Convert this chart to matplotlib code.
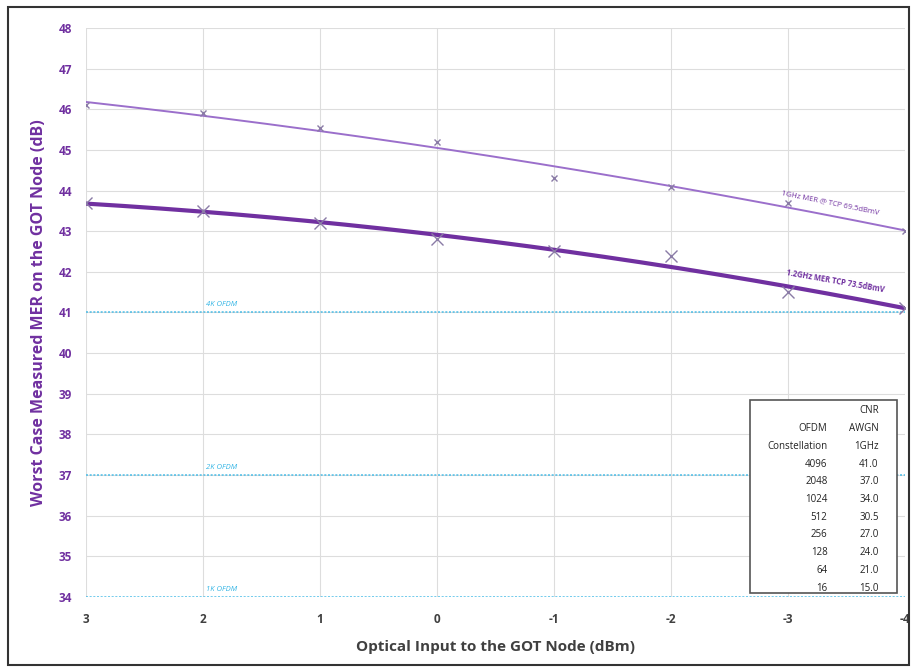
import numpy as np
import matplotlib
matplotlib.use("Agg")
import matplotlib.pyplot as plt
from matplotlib.patches import Rectangle

plt.rcParams['font.family'] = ['Open Sans', 'DejaVu Sans']
plt.rcParams['axes.unicode_minus'] = False

# optical input (dBm)
optical_in = [3, 2, 1, 0, -1, -2, -3, -4]
# 1GHz MER @ TCP 69.5dBmV
mer_1ghz = [46.1, 45.9, 45.55, 45.2, 44.3, 44.1, 43.7, 43.0]
# 1.2GHz MER TCP 73.5dBmV
mer_12ghz = [43.7, 43.5, 43.2, 42.8, 42.5, 42.4, 41.5, 41.1]

ofdm_levels = [41, 37, 34]
ofdm_labels = ['4K OFDM', '2K OFDM', '1K OFDM']

constellation = ['4096', '2048', '1024', '512', '256', '128', '64', '16']
cnr_awgn = ['41.0', '37.0', '34.0', '30.5', '27.0', '24.0', '21.0', '15.0']

purple = '#7030A0'
light_purple = '#9B6FCB'
marker_col = '#8A7BA6'
cyan = '#33B5E5'
grey_txt = '#404040'

fig = plt.figure(figsize=(9.14, 6.69), dpi=100)
ax = fig.add_axes([0.094, 0.108, 0.896, 0.850])

# trend lines (2nd order polynomial, like the spreadsheet trendline)
xs = np.linspace(3, -4, 200)
p1 = np.polyfit(optical_in, mer_1ghz, 2)
p2 = np.polyfit(optical_in, mer_12ghz, 2)
ax.plot(xs, np.polyval(p1, xs), color=light_purple, lw=1.4, zorder=3)
ax.plot(xs, np.polyval(p2, xs), color=purple, lw=3.0, zorder=3)

ax.plot(optical_in, mer_1ghz, ls='none', marker='x', ms=4, mew=1.0,
        color=marker_col, zorder=4)
ax.plot(optical_in, mer_12ghz, ls='none', marker='x', ms=9, mew=1.0,
        color=marker_col, zorder=4)

for lvl, lab in zip(ofdm_levels, ofdm_labels):
    ax.axhline(lvl, color=cyan, lw=1.2, ls=(0, (1.2, 1.0)), alpha=0.8, zorder=2)
    ax.text(1.97, lvl + 0.1, lab, color=cyan, fontsize=5.5, style='italic',
            ha='left', va='bottom')

ax.text(-3.36, 43.69, '1GHz MER @ TCP 69.5dBmV', color=purple, fontsize=5.5,
        rotation=-11.5, ha='center', va='center')
ax.text(-3.41, 41.77, '1.2GHz MER TCP 73.5dBmV', color=purple, fontsize=5.5,
        fontweight='bold', rotation=-10, ha='center', va='center')

ax.set_xlim(3, -4)
ax.set_ylim(34, 48)
ax.set_xticks(optical_in)
ax.set_yticks(range(34, 49))
ax.grid(True, color='#DDDDDD', lw=0.8)
ax.set_axisbelow(True)
for s in ax.spines.values():
    s.set_visible(False)
ax.tick_params(length=0)
ax.tick_params(axis='y', pad=10, labelcolor=purple)
ax.tick_params(axis='x', pad=12, labelcolor=grey_txt)
for t in ax.get_yticklabels():
    t.set_fontweight('bold')
    t.set_fontsize(8.5)
for t in ax.get_xticklabels():
    t.set_fontweight('bold')
    t.set_fontsize(8.5)

ax.set_ylabel('Worst Case Measured MER on the GOT Node (dB)', color=purple,
              fontsize=11.5, fontweight='bold', labelpad=8)
ax.set_xlabel('Optical Input to the GOT Node (dBm)', color=grey_txt,
              fontsize=11, fontweight='bold', labelpad=10)

# CNR table box
ax.add_patch(Rectangle((0.811, 0.007), 0.179, 0.339, transform=ax.transAxes,
                       facecolor='white', edgecolor='#555555', lw=1.2, zorder=5))
col1 = ['', 'OFDM', 'Constellation'] + constellation
col2 = ['CNR', 'AWGN', '1GHz'] + cnr_awgn
y0 = 0.327
dy = 0.0312
for i, (a, b) in enumerate(zip(col1, col2)):
    yy = y0 - i * dy
    ax.text(0.9055, yy, a, transform=ax.transAxes, ha='right', va='center',
            fontsize=7, color='#222222', zorder=6)
    ax.text(0.968, yy, b, transform=ax.transAxes, ha='right', va='center',
            fontsize=7, color='#222222', zorder=6)

# picture frame
fig.patches.append(Rectangle((0.009, 0.006), 0.986, 0.983, transform=fig.transFigure,
                             fill=False, edgecolor='#333333', lw=1.5))

fig.savefig('out.png', dpi=100)
